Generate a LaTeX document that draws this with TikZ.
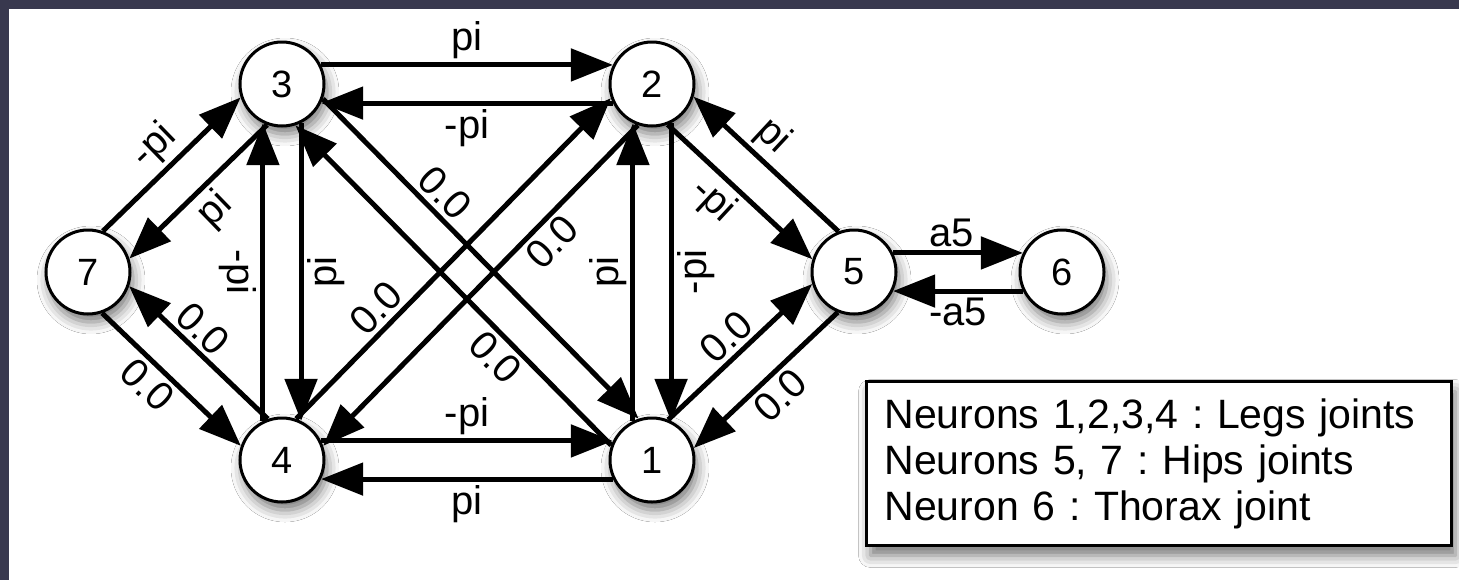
\documentclass[tikz,border=0pt]{standalone}
\usepackage{fontspec}
\setmainfont{Liberation Sans}
\usetikzlibrary{arrows.meta,positioning,shadows.blur}

\definecolor{slidebg}{RGB}{56,56,78}
\frenchspacing

\begin{document}
\begin{tikzpicture}[>={Triangle[length=21pt,width=16pt]},line width=2.5pt,
    neuron/.style={circle,draw,line width=1.5pt,fill=white,minimum size=42pt,inner sep=0pt,on grid,
      font=\fontsize{19}{19}\selectfont,
      blur shadow={shadow xshift=1.5pt,shadow yshift=-4pt,shadow blur radius=6pt,shadow opacity=55}},
    lbl/.style={font=\fontsize{20}{20}\selectfont,inner sep=2pt},
    legend/.style={draw,line width=1.5pt,fill=white,align=left,text width=274.5pt,inner xsep=9pt,
      minimum height=82pt,font=\fontsize{20.5}{23}\selectfont,
      blur shadow={shadow xshift=2pt,shadow yshift=-5pt,shadow blur radius=6pt,shadow opacity=55}}]
    \useasboundingbox (-141pt,42pt) rectangle (588.5pt,-248pt);
    \fill[slidebg] (-141pt,42pt) rectangle (588.5pt,-248pt);
    \fill[white] (-136.5pt,37.5pt) rectangle (588.5pt,-248pt);

    \node[neuron] (n3) at (0,0) {3};
    \node[neuron] (n2) [right=185pt of n3] {2};
    \node[neuron] (n4) [below=188pt of n3] {4};
    \node[neuron] (n1) [right=185pt of n4] {1};
    \node[neuron] (n7) [below left=94pt and 97pt of n3] {7};
    \node[neuron] (n5) [below right=94pt and 101pt of n2] {5};
    \node[neuron] (n6) [right=104pt of n5] {6};

    \node[legend] (key) [below right=54pt and 5.5pt of n5.center]
      {Neurons 1,2,3,4 : Legs joints\\ Neurons 5, 7 : Hips joints\\ Neuron 6 : Thorax joint};

    \path[->]
    (n3.26)    edge node[lbl,above] {pi} (n2.154)
    (n2.206)   edge node[lbl,below] {-pi} (n3.334)
    (n4.26)    edge node[lbl,above] {-pi} (n1.154)
    (n1.206)   edge node[lbl,below] {pi} (n4.334)
    (n4.116)   edge node[lbl,rotate=-90,anchor=north] {-pi} (n3.244)
    (n3.296)   edge node[lbl,rotate=90,anchor=north] {pi} (n4.64)
    (n1.116)   edge node[lbl,rotate=90,anchor=south] {pi} (n2.244)
    (n2.296)   edge node[lbl,rotate=90,anchor=north] {-pi} (n1.64)
    (n3.340.5) edge node[lbl,sloped,above,pos=.34] {0.0} (n1.108.5)
    (n1.160.5) edge node[lbl,sloped,below,pos=.32] {0.0} (n3.288.5)
    (n4.71.5)  edge node[lbl,sloped,above,pos=.30] {0.0} (n2.199.5)
    (n2.251.5) edge node[lbl,sloped,below,pos=.32] {0.0} (n4.19.5)
    (n7.70.1)  edge node[lbl,sloped,above] {-pi} (n3.198.1)
    (n3.250.1) edge node[lbl,sloped,below] {pi} (n7.18.1)
    (n4.109.9) edge node[lbl,sloped,above,pos=.57] {0.0} (n7.341.9)
    (n7.289.9) edge node[lbl,sloped,below,pos=.43] {0.0} (n4.161.9)
    (n5.111.1) edge node[lbl,sloped,above,pos=.57] {pi} (n2.343.1)
    (n2.291.1) edge node[lbl,sloped,below,pos=.43] {-pi} (n5.163.1)
    (n1.68.9)  edge node[lbl,sloped,above] {0.0} (n5.196.9)
    (n5.248.9) edge node[lbl,sloped,below] {0.0} (n1.16.9)
    (n5.26)    edge node[lbl,above,pos=.45] {a5} (n6.154)
    (n6.206)   edge node[lbl,below] {-a5} (n5.334)
    ;
\end{tikzpicture}
\end{document}
